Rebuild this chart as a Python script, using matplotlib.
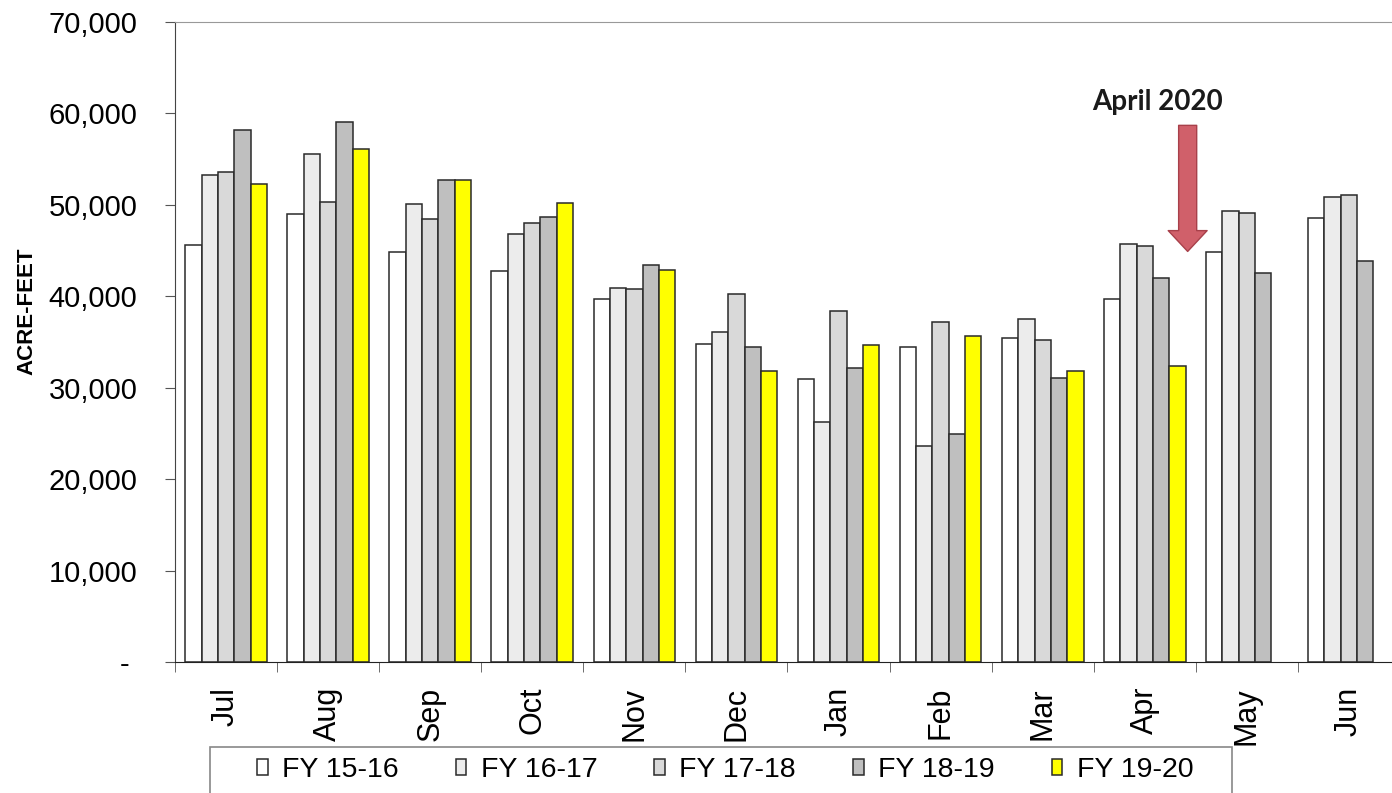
import matplotlib
matplotlib.use('Agg')
import matplotlib.pyplot as plt
from matplotlib.patches import Rectangle
import numpy as np

# monthly deliveries, acre-feet
months = ['Jul', 'Aug', 'Sep', 'Oct', 'Nov', 'Dec', 'Jan', 'Feb', 'Mar', 'Apr', 'May', 'Jun']
fy_labels = ['FY 15-16', 'FY 16-17', 'FY 17-18', 'FY 18-19', 'FY 19-20']

fy1516 = [45600, 49000, 44800, 42800, 39700, 34800, 30900, 34400, 35400, 39700, 44800, 48600]
fy1617 = [53300, 55600, 50100, 46800, 40900, 36100, 26200, 23600, 37500, 45700, 49300, 50900]
fy1718 = [53600, 50300, 48500, 48000, 40800, 40200, 38400, 37200, 35200, 45500, 49100, 51100]
fy1819 = [58200, 59100, 52700, 48700, 43400, 34500, 32200, 24900, 31100, 42000, 42600, 43900]
fy1920 = [52300, 56100, 52700, 50200, 42900, 31800, 34700, 35700, 31800, 32400, None, None]

series = [fy1516, fy1617, fy1718, fy1819, fy1920]
colors = ['#ffffff', '#ececec', '#d9d9d9', '#bfbfbf', '#ffff00']

yticks = [0, 10000, 20000, 30000, 40000, 50000, 60000, 70000]
ytick_labels = ['- ', '10,000', '20,000', '30,000', '40,000', '50,000', '60,000', '70,000']

fig = plt.figure(figsize=(13.92, 7.93), dpi=100)
ax = fig.add_axes([175/1392, 1 - 662/793, 1225/1392, 640/793])

x = np.arange(len(months))
w = 0.16
for i, (vals, c) in enumerate(zip(series, colors)):
    xs = [xx + (i - 2) * w for xx, v in zip(x, vals) if v is not None]
    vs = [v for v in vals if v is not None]
    ax.bar(xs, vs, width=w, color=c, edgecolor='#2a2a2a', linewidth=1.1,
           label=fy_labels[i])

ax.set_xlim(-0.5, 11.5)
ax.set_ylim(0, 70000)
ax.set_yticks(yticks)
ax.set_yticklabels(ytick_labels, fontsize=21, family='Liberation Sans')
ax.set_xticks(x)
ax.set_xticklabels(months, rotation=90, fontsize=22, family='Liberation Sans')
ax.set_xticks(np.arange(-0.5, 12, 1), minor=True)
ax.tick_params(axis='x', which='major', length=0, pad=18)
ax.tick_params(axis='x', which='minor', length=7, color='#555555')
ax.tick_params(axis='y', length=7, pad=20, color='#555555')

ax.spines['top'].set_color('#999999')
ax.spines['right'].set_visible(False)
ax.spines['left'].set_color('#444444')
ax.spines['bottom'].set_color('#222222')

ax.set_ylabel('ACRE-FEET', fontsize=16, fontweight='bold', family='Liberation Sans')
ax.yaxis.set_label_coords(-138/1225, (662 - 311) / 640)

# April 2020 marker
ax.annotate('', xy=(9.42, 44600), xytext=(9.42, 59000),
            arrowprops=dict(arrowstyle='simple,head_length=0.75,head_width=1.4,tail_width=0.65',
                            mutation_scale=20, fc='#d0606a', ec='#a8404a', lw=1))
ax.text(9.12, 61200, 'April 2020', fontsize=20, fontweight='bold',
        family='Lato', ha='center', va='center', color='#1a1a1a')

# legend box along the bottom edge
fig.patches.append(Rectangle((210/1392, -0.01), (1232 - 210)/1392, (793 - 747)/793 + 0.01,
                             transform=fig.transFigure, fill=False,
                             edgecolor='#888888', linewidth=1.2))
leg = fig.legend(loc='center left', bbox_to_anchor=(257/1392, 1 - 770/793), ncol=5,
                 prop={'family': 'Liberation Sans', 'size': 20.5},
                 handlelength=0.38, handleheight=0.45, handletextpad=0.5,
                 columnspacing=2.0, borderpad=0, borderaxespad=0, frameon=False)

fig.savefig('out.png', dpi=100)
